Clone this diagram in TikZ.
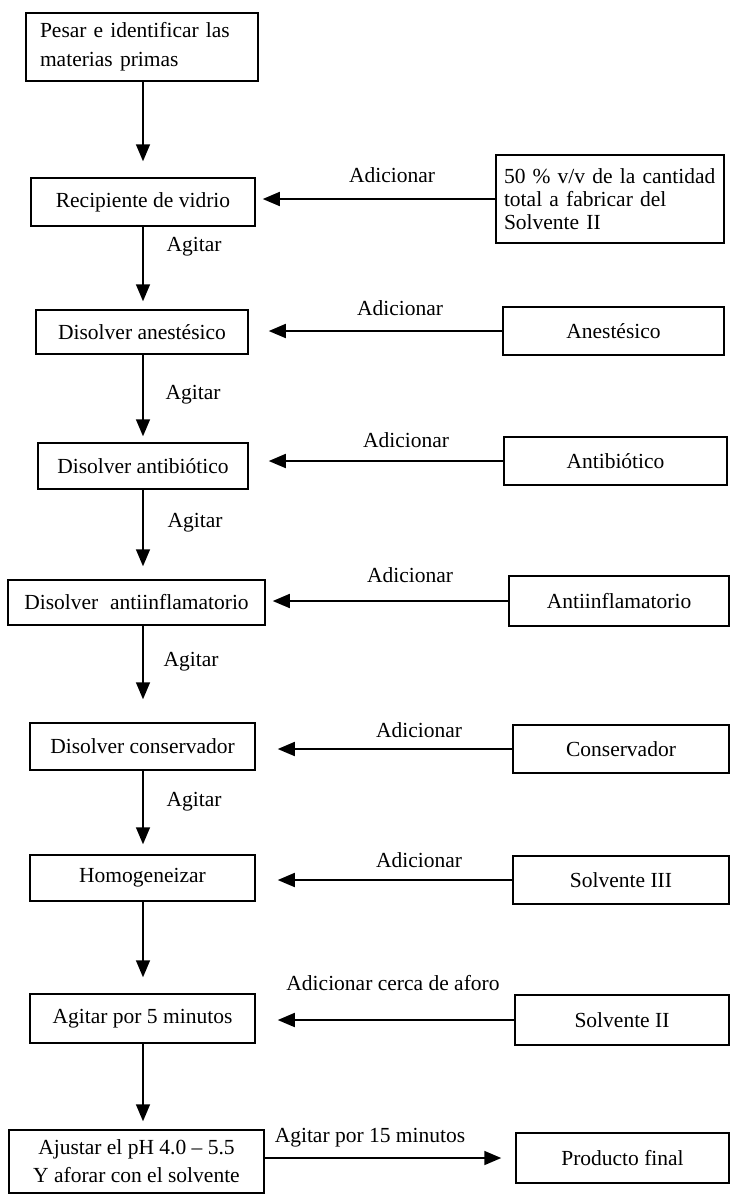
\documentclass[tikz,border=0pt]{standalone}
\usepackage{fontspec}
\setmainfont{Liberation Serif}
\usetikzlibrary{arrows.meta}
\begin{document}
\begin{tikzpicture}[x=1pt,y=-1pt,
  font=\fontsize{21.5}{23}\selectfont,
  box/.style={draw,line width=1.5pt,inner sep=0pt,anchor=center,align=center},
  arr/.style={line width=1.7pt,-{Triangle[length=17pt,width=14pt]}},
  lbl/.style={inner sep=0pt,anchor=center}]
\useasboundingbox (0,0) rectangle (732,1195);
\coordinate (col) at (143,0);
% left column
\node[box,minimum width=232pt,minimum height=68pt,text width=204pt,align=left,font=\fontsize{21.5}{29}\selectfont] (b1) at (142,47) {Pesar e identificar las\\materias primas};
\node[box,minimum width=224pt,minimum height=48pt] (b2) at (143,202) {Recipiente de vidrio};
\node[box,minimum width=212pt,minimum height=44pt] (b3) at (142,332) {Disolver anestésico};
\node[box,minimum width=210pt,minimum height=46pt] (b4) at (143,466) {Disolver antibiótico};
\node[box,minimum width=257pt,minimum height=45pt] (b5) at (136.5,602.5) {Disolver\hspace{0.55em}antiinflamatorio};
\node[box,minimum width=225pt,minimum height=47pt] (b6) at (142.5,746.5) {Disolver conservador};
\node[box,minimum width=225pt,minimum height=46pt] (b7) at (142.5,878) {Homogeneizar};
\node[box,minimum width=225pt,minimum height=49pt] (b8) at (142.5,1018.5) {Agitar por 5 minutos};
\node[box,minimum width=255pt,minimum height=63pt,font=\fontsize{21.5}{28}\selectfont] (b9) at (136.5,1161.5) {Ajustar el pH 4.0 -- 5.5\\Y aforar con el solvente};
% right column
\node[box,minimum width=228pt,minimum height=88pt,text width=212pt,align=left] (r1) at (610,199) {50 \% v/v de la cantidad\\total a fabricar del\\Solvente II};
\node[box,minimum width=221pt,minimum height=48pt] (r2) at (613.5,331) {Anestésico};
\node[box,minimum width=223pt,minimum height=48pt] (r3) at (615.5,461) {Antibiótico};
\node[box,minimum width=220pt,minimum height=50pt] (r4) at (619,601) {Antiinflamatorio};
\node[box,minimum width=216pt,minimum height=48pt] (r5) at (621,749) {Conservador};
\node[box,minimum width=216pt,minimum height=48pt] (r6) at (621,880) {Solvente III};
\node[box,minimum width=214pt,minimum height=50pt] (r7) at (622,1020) {Solvente II};
\node[box,minimum width=213pt,minimum height=50pt] (r8) at (622.5,1158) {Producto final};
% vertical arrows
\draw[arr,shorten >=16pt] (b1.south -| col) -- (b2.north -| col);
\draw[arr,shorten >=8pt] (b2.south -| col) -- (b3.north -| col);
\draw[arr,shorten >=6pt] (b3.south -| col) -- (b4.north -| col);
\draw[arr,shorten >=13pt] (b4.south -| col) -- (b5.north -| col);
\draw[arr,shorten >=23pt] (b5.south -| col) -- (b6.north -| col);
\draw[arr,shorten >=10pt] (b6.south -| col) -- (b7.north -| col);
\draw[arr,shorten >=16pt] (b7.south -| col) -- (b8.north -| col);
\draw[arr,shorten >=8pt] (b8.south -| col) -- (b9.north -| col);
% horizontal arrows
\draw[arr,shorten >=7pt] (r1.west) -- (r1.west -| b2.east);
\draw[arr,shorten >=20pt] (r2.west) -- (r2.west -| b3.east);
\draw[arr,shorten >=20pt] (r3.west) -- (r3.west -| b4.east);
\draw[arr,shorten >=7pt] (r4.west) -- (r4.west -| b5.east);
\draw[arr,shorten >=22pt] (r5.west) -- (r5.west -| b6.east);
\draw[arr,shorten >=22pt] (r6.west) -- (r6.west -| b7.east);
\draw[arr,shorten >=22pt] (r7.west) -- (r7.west -| b8.east);
\draw[arr,shorten >=14pt] (r8.west -| b9.east) -- (r8.west);
% labels
\node[lbl] (l1) at (392,175) {Adicionar};
\node[lbl] (l2) at (400,308) {Adicionar};
\node[lbl] (l3) at (406,440) {Adicionar};
\node[lbl] (l4) at (410,575) {Adicionar};
\node[lbl] (l5) at (419,730) {Adicionar};
\node[lbl] (l6) at (419,860) {Adicionar};
\node[lbl] (l7) at (393,983) {Adicionar cerca de aforo};
\node[lbl] (l8) at (370,1138) {Agitar por 15 minutos};
\node[lbl] (a1) at (194,247) {Agitar};
\node[lbl] (a2) at (193,395) {Agitar};
\node[lbl] (a3) at (195,523) {Agitar};
\node[lbl] (a4) at (191,662) {Agitar};
\node[lbl] (a5) at (194,802) {Agitar};
\end{tikzpicture}
\end{document}
